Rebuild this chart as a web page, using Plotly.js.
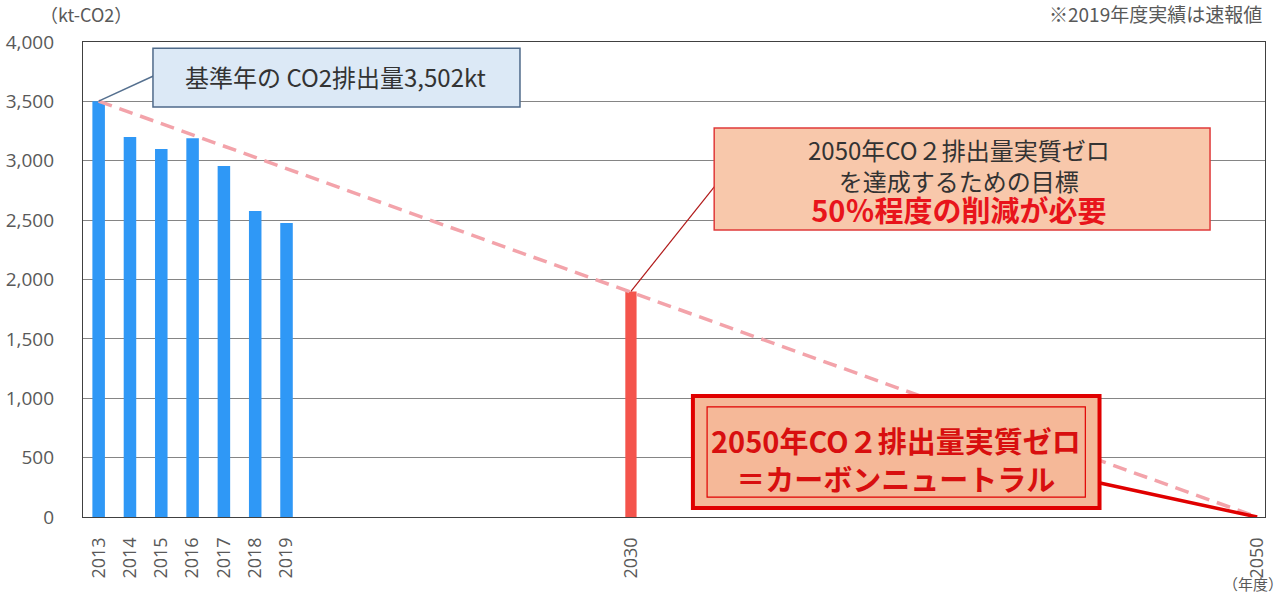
<!DOCTYPE html>
<html><head><meta charset="utf-8">
<script src="https://cdn.plot.ly/plotly-3.0.1.min.js"></script>
<style>html,body{margin:0;padding:0;background:#fff}#chart{width:1287px;height:595px}</style>
</head><body><div id="chart"></div>
<script>
const actualYears = [2013, 2014, 2015, 2016, 2017, 2018, 2019];
const actualValues = [3502, 3200, 3100, 3190, 2955, 2577, 2476];
const targetYears = [2030];
const targetValues = [1900];
const pathYears = [2013, 2050];
const pathValues = [3502, 0];
const tickYears = [2013, 2014, 2015, 2016, 2017, 2018, 2019, 2030, 2050];
const tickLabels = ['2013', '2014', '2015', '2016', '2017', '2018', '2019', '2030', '2050'];

const JP = '"Noto Sans CJK JP", "Noto Sans", sans-serif';
const NUM = '"Open Sans", "Noto Sans", sans-serif';
const grey = '#595959';

const traces = [
  {type:'bar', x: actualYears, y: actualValues, width: 0.4, marker:{color:'#2f98f6'}, hoverinfo:'skip'},
  {type:'bar', x: targetYears, y: targetValues, width: 0.36, marker:{color:'#f4544c'}, hoverinfo:'skip'},
  {type:'scatter', mode:'lines', x: pathYears, y: pathValues, line:{color:'#f3a3aa', width:3.5, dash:'14px,8px'}, hoverinfo:'skip'}
];

const layout = {
  width:1287, height:595,
  margin:{l:83, r:22, t:42, b:78},
  paper_bgcolor:'#fff', plot_bgcolor:'#fff',
  showlegend:false,
  barmode:'overlay',
  font:{family:JP, color:grey},
  xaxis:{range:[2012.5, 2050.25], tickmode:'array', tickvals: tickYears, ticktext: tickLabels,
    tickangle:-90, tickfont:{size:18, color:grey, family:NUM},
    showgrid:false, zeroline:false, showline:true, mirror:true, linecolor:'#404040', linewidth:1.2,
    ticks:'', ticklabelstandoff:12},
  yaxis:{range:[0,4000], dtick:500, tickformat:',', tickfont:{size:19, color:grey, family:NUM},
    showgrid:true, gridcolor:'#858585', gridwidth:1, zeroline:false,
    showline:true, mirror:true, linecolor:'#404040', linewidth:1.2, ticks:'', ticklabelstandoff:24},
  shapes:[
    {type:'line', xref:'x', yref:'y', x0:2014.80, y0:3720, x1:2013, y1:3502, line:{color:'#55708f', width:1.5}},
    {type:'rect', xref:'paper', yref:'paper', x0:0.0592, x1:0.3697, y0:0.863, y1:0.987, fillcolor:'#dce9f6', line:{color:'#4f6a8a', width:1.5}},
    {type:'line', xref:'x', yref:'y', x0:2032.75, y0:2810, x1:2030, y1:1900, line:{color:'#b01818', width:1.2}},
    {type:'rect', xref:'paper', yref:'paper', x0:0.534, x1:0.9535, y0:0.604, y1:0.819, fillcolor:'#f8c8ab', line:{color:'#e03a3a', width:1.5}},
    {type:'line', xref:'x', yref:'y', x0:2044.98, y0:286, x1:2050, y1:0, line:{color:'#e00000', width:3.5}},
    {type:'rect', xref:'paper', yref:'paper', x0:0.516, x1:0.860, y0:0.019, y1:0.255, fillcolor:'#f5b898', line:{color:'#e00000', width:4}},
    {type:'rect', xref:'paper', yref:'paper', x0:0.528, x1:0.848, y0:0.042, y1:0.232, fillcolor:'rgba(0,0,0,0)', line:{color:'#e00000', width:1.2}}
  ],
  annotations:[
    {xref:'paper', yref:'paper', x:0.2135, y:0.928, xanchor:'center', yanchor:'middle', showarrow:false,
      text:'基準年の CO2排出量3,502kt', font:{size:24, color:'#333333', family:JP}},
    {xref:'paper', yref:'paper', x:0.741, y:0.707, xanchor:'center', yanchor:'middle', showarrow:false, align:'center',
      text:'<span style="color:#333333">2050年CO２排出量実質ゼロ<br>を達成するための目標</span><br><b><span style="font-size:29px;color:#e8141b">50％程度の削減が必要</span></b>',
      font:{size:24, color:'#333333', family:JP}},
    {xref:'paper', yref:'paper', x:0.688, y:0.122, xanchor:'center', yanchor:'middle', showarrow:false, align:'center',
      text:'<b>2050年CO２排出量実質ゼロ<br>＝カーボンニュートラル</b>',
      font:{size:29, color:'#d80f0f', family:JP}},
    {xref:'paper', yref:'paper', x:-0.038, y:1.027, xanchor:'left', yanchor:'bottom', text:'（kt-CO2）', showarrow:false,
      font:{size:18, color:grey, family:JP}},
    {xref:'paper', yref:'paper', x:0.999, y:1.027, xanchor:'right', yanchor:'bottom', text:'※2019年度実績は速報値', showarrow:false,
      font:{size:19, color:grey, family:JP}},
    {xref:'paper', yref:'paper', x:0.99, y:-0.113, xanchor:'center', yanchor:'top', text:'（年度）', showarrow:false,
      font:{size:15, color:grey, family:JP}}
  ]
};
Plotly.newPlot('chart', traces, layout, {displayModeBar:false, staticPlot:true});
</script></body></html>
